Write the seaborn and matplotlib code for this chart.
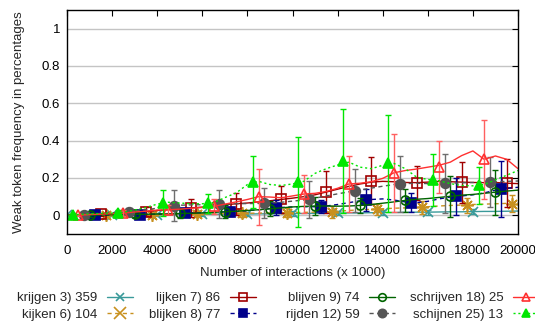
import matplotlib
matplotlib.use("Agg")
import matplotlib.pyplot as plt
from matplotlib.lines import Line2D
import seaborn as sns

# Interaction counts (x 1000) at which the running averages are sampled
interactions = list(range(0, 20001, 500))

# Running averages of weak token frequency per verb
krijgen_line = [0.000, 0.000, 0.001, 0.001, 0.002, 0.002, 0.003, 0.003, 0.003, 0.004,
                0.004, 0.005, 0.005, 0.006, 0.006, 0.007, 0.007, 0.008, 0.008, 0.009,
                0.010, 0.010, 0.011, 0.011, 0.012, 0.013, 0.013, 0.014, 0.015, 0.015,
                0.016, 0.017, 0.017, 0.018, 0.019, 0.019, 0.020, 0.021, 0.021, 0.022, 0.023]
kijken_line = [0.000, 0.000, 0.001, 0.001, 0.002, 0.002, 0.003, 0.003, 0.004, 0.005,
               0.005, 0.006, 0.007, 0.008, 0.009, 0.010, 0.011, 0.012, 0.013, 0.014,
               0.015, 0.016, 0.017, 0.018, 0.022, 0.026, 0.030, 0.032, 0.035, 0.038,
               0.040, 0.043, 0.046, 0.050, 0.053, 0.055, 0.058, 0.060, 0.062, 0.064, 0.066]
lijken_line = [0.000, 0.001, 0.003, 0.005, 0.008, 0.012, 0.016, 0.020, 0.026, 0.030,
               0.035, 0.040, 0.044, 0.050, 0.056, 0.062, 0.066, 0.072, 0.078, 0.085,
               0.092, 0.100, 0.110, 0.125, 0.140, 0.155, 0.168, 0.178, 0.182, 0.180,
               0.176, 0.175, 0.178, 0.182, 0.180, 0.178, 0.176, 0.175, 0.176, 0.172, 0.170]
blijken_line = [0.000, 0.000, 0.001, 0.001, 0.002, 0.003, 0.004, 0.005, 0.007, 0.008,
                0.010, 0.012, 0.014, 0.016, 0.018, 0.021, 0.025, 0.030, 0.036, 0.042,
                0.045, 0.046, 0.046, 0.050, 0.058, 0.068, 0.078, 0.085, 0.088, 0.082,
                0.072, 0.068, 0.075, 0.088, 0.098, 0.104, 0.110, 0.120, 0.135, 0.145, 0.150]
blijven_line = [0.000, 0.000, 0.001, 0.002, 0.003, 0.004, 0.005, 0.006, 0.007, 0.008,
                0.010, 0.011, 0.013, 0.016, 0.019, 0.022, 0.026, 0.030, 0.035, 0.040,
                0.045, 0.048, 0.050, 0.050, 0.049, 0.050, 0.053, 0.058, 0.065, 0.072,
                0.080, 0.086, 0.090, 0.096, 0.102, 0.108, 0.112, 0.118, 0.124, 0.130, 0.135]
rijden_line = [0.000, 0.002, 0.006, 0.010, 0.014, 0.018, 0.024, 0.030, 0.038, 0.048,
               0.054, 0.056, 0.057, 0.058, 0.060, 0.062, 0.063, 0.064, 0.066, 0.070,
               0.076, 0.082, 0.092, 0.104, 0.115, 0.126, 0.136, 0.146, 0.156, 0.165,
               0.170, 0.172, 0.170, 0.170, 0.172, 0.174, 0.176, 0.178, 0.180, 0.182, 0.184]
schrijven_line = [0.000, 0.001, 0.004, 0.006, 0.009, 0.012, 0.018, 0.022, 0.028, 0.030,
                  0.033, 0.038, 0.042, 0.048, 0.060, 0.072, 0.085, 0.100, 0.098, 0.094,
                  0.104, 0.114, 0.118, 0.128, 0.145, 0.168, 0.172, 0.180, 0.198, 0.228,
                  0.240, 0.248, 0.258, 0.268, 0.285, 0.320, 0.345, 0.300, 0.318, 0.300, 0.250]
schijnen_line = [0.000, 0.004, 0.008, 0.010, 0.012, 0.016, 0.028, 0.042, 0.060, 0.070,
                 0.066, 0.062, 0.062, 0.068, 0.095, 0.120, 0.165, 0.182, 0.165, 0.160,
                 0.168, 0.182, 0.225, 0.250, 0.270, 0.285, 0.258, 0.250, 0.268, 0.278,
                 0.250, 0.205, 0.192, 0.185, 0.170, 0.160, 0.158, 0.165, 0.190, 0.215, 0.240]

# Sampled means with standard deviations (error bars), staggered per verb
krijgen_x = list(range(0, 18001, 2000))
krijgen_mean = [0.000, 0.001, 0.003, 0.005, 0.007, 0.010, 0.012, 0.015, 0.017, 0.020]
krijgen_sd = [0.003, 0.005, 0.008, 0.010, 0.012, 0.012, 0.012, 0.012, 0.013, 0.012]

kijken_x = list(range(1750, 19751, 2000))
kijken_mean = [0.001, 0.003, 0.006, 0.010, 0.014, 0.018, 0.032, 0.044, 0.055, 0.063]
kijken_sd = [0.006, 0.010, 0.015, 0.020, 0.025, 0.030, 0.030, 0.035, 0.040, 0.045]

lijken_x = list(range(1500, 19501, 2000))
lijken_mean = [0.005, 0.020, 0.040, 0.062, 0.085, 0.125, 0.185, 0.172, 0.178, 0.172]
lijken_sd = [0.010, 0.025, 0.050, 0.060, 0.070, 0.110, 0.125, 0.090, 0.110, 0.130]

blijken_x = list(range(1250, 19251, 2000))
blijken_mean = [0.001, 0.004, 0.011, 0.020, 0.040, 0.046, 0.082, 0.068, 0.102, 0.142]
blijken_sd = [0.005, 0.010, 0.015, 0.025, 0.040, 0.035, 0.060, 0.050, 0.100, 0.150]

blijven_x = list(range(1000, 19001, 2000))
blijven_mean = [0.001, 0.005, 0.010, 0.019, 0.035, 0.050, 0.053, 0.080, 0.102, 0.124]
blijven_sd = [0.010, 0.015, 0.025, 0.035, 0.040, 0.050, 0.040, 0.060, 0.110, 0.120]

rijden_x = list(range(750, 18751, 2000))
rijden_mean = [0.004, 0.020, 0.052, 0.059, 0.065, 0.086, 0.131, 0.168, 0.171, 0.179]
rijden_sd = [0.010, 0.020, 0.085, 0.075, 0.080, 0.100, 0.115, 0.150, 0.160, 0.135]

schrijven_x = list(range(500, 18501, 2000))
schrijven_mean = [0.001, 0.012, 0.030, 0.048, 0.100, 0.114, 0.168, 0.228, 0.260, 0.300]
schrijven_sd = [0.005, 0.015, 0.025, 0.040, 0.150, 0.100, 0.150, 0.210, 0.140, 0.210]

schijnen_x = list(range(250, 18251, 2000))
schijnen_mean = [0.004, 0.014, 0.068, 0.064, 0.178, 0.178, 0.290, 0.280, 0.190, 0.160]
schijnen_sd = [0.010, 0.012, 0.070, 0.050, 0.140, 0.240, 0.280, 0.260, 0.140, 0.100]

labels = ["krijgen 3) 359", "kijken 6) 104", "lijken 7) 86", "blijken 8) 77",
          "blijven 9) 74", "rijden 12) 59", "schrijven 18) 25", "schijnen 25) 13"]

x_ticks = list(range(0, 20001, 2000))
y_ticks = [0, 0.2, 0.4, 0.6, 0.8, 1]
y_tick_labels = ["0", "0.2", "0.4", "0.6", "0.8", "1"]

sns.set_theme(style="white")
plt.rcParams["font.family"] = ["Liberation Sans", "DejaVu Sans"]
FS = 9.5

# line colour, error bar colour, line style, marker, marker size, filled, legend marker
styles = [
    ("#3a9a9a", "#3a9a9a", "-", "x", 7, True, "x"),
    ("#c8901e", "#c8901e", (0, (3, 2.5)), (8, 2, 0), 9, True, "x"),
    ("#a00000", "#a00000", "-", "s", 6.5, False, "s"),
    ("#00008b", "#00008b", (0, (3, 2.5)), "s", 6.5, True, "s"),
    ("#006400", "#006400", "-", "o", 6.5, False, "o"),
    ("#555555", "#6e6e6e", (0, (3, 2.5)), "o", 7, True, "o"),
    ("#ff3030", "#ff6060", "-", "^", 7, False, "^"),
    ("#00e600", "#00e600", (0, (1.5, 2)), "^", 7, True, "^"),
]

lines = [krijgen_line, kijken_line, lijken_line, blijken_line,
         blijven_line, rijden_line, schrijven_line, schijnen_line]
points = [(krijgen_x, krijgen_mean, krijgen_sd), (kijken_x, kijken_mean, kijken_sd),
          (lijken_x, lijken_mean, lijken_sd), (blijken_x, blijken_mean, blijken_sd),
          (blijven_x, blijven_mean, blijven_sd), (rijden_x, rijden_mean, rijden_sd),
          (schrijven_x, schrijven_mean, schrijven_sd), (schijnen_x, schijnen_mean, schijnen_sd)]

fig = plt.figure(figsize=(5.35, 3.29), dpi=100)
ax = fig.add_axes([67 / 535, 1 - 234 / 329, 451 / 535, 224 / 329])
ax.set_xlim(0, 20000)
ax.set_ylim(-0.1, 1.1)
ax.set_yticks(y_ticks)
ax.set_yticklabels(y_tick_labels)
ax.set_xticks(x_ticks)
ax.set_xticklabels([str(t) for t in x_ticks])
ax.yaxis.grid(True, color="#c4c4c4", lw=1.0)
ax.xaxis.grid(False)
ax.set_axisbelow(True)

handles = []
for line, (px, pm, psd), (c, ec, ls, mk, ms, filled, lmk) in zip(lines, points, styles):
    sns.lineplot(x=interactions, y=line, color=c, linestyle=ls, lw=1.0, ax=ax)
    ax.errorbar(px, pm, yerr=psd, fmt="none", ecolor=ec, elinewidth=1.0,
                capsize=2.5, capthick=1.0)
    ax.plot(px, pm, linestyle="none", marker=mk, ms=ms, color=c,
            mfc=c if filled else "none", mec=c, mew=1.2)
    handles.append(Line2D([], [], color=c, linestyle=ls, lw=1.0, marker=lmk,
                          ms=ms - 1, mfc=c if filled else "none", mec=c, mew=1.2))

for s in ax.spines.values():
    s.set_color("black")
    s.set_linewidth(1.0)
ax.tick_params(direction="in", top=True, right=True, length=4, width=0.8,
               labelsize=FS, colors="black", pad=5)
ax.tick_params(axis="x", pad=8)
ax.set_xlabel("Number of interactions (x 1000)", fontsize=FS, labelpad=7)
ax.set_ylabel("Weak token frequency in percentages", fontsize=FS, labelpad=12)

# legend: four right-aligned columns below the axes
col_right = [133, 256, 395, 539]
for i, xr in enumerate(col_right):
    fig.legend(handles=handles[2 * i:2 * i + 2], labels=labels[2 * i:2 * i + 2],
               loc="upper right", bbox_to_anchor=(xr / 535, 1 - 292 / 329),
               frameon=False, markerfirst=False, handlelength=2.0,
               handletextpad=0.7, labelspacing=0.35, borderpad=0,
               borderaxespad=0, fontsize=FS, numpoints=1)

fig.savefig("out.png", dpi=100)
